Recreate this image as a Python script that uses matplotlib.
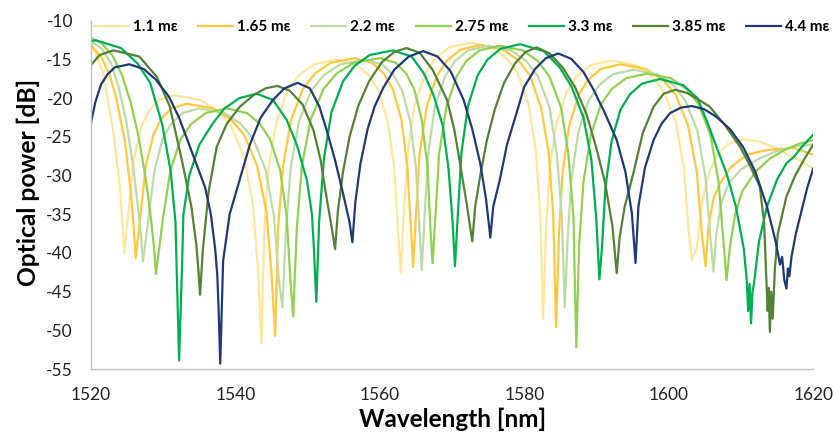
import matplotlib
matplotlib.use("Agg")
import matplotlib.pyplot as plt

# strain levels and their line colours (Excel-like palette)
labels = ["1.1 mε", "1.65 mε", "2.2 mε", "2.75 mε", "3.3 mε", "3.85 mε", "4.4 mε"]
colors = ["#FFE699", "#FFC83D", "#BDDBA6", "#92D050", "#00B050", "#548235", "#1F3A78"]

# spectra: (wavelength nm, optical power dB)
s_110 = [(1520.0, -12.9), (1520.8, -14.5), (1521.6, -16.5), (1522.2, -19.5), (1523.2, -25.0),
         (1524.0, -31.5), (1524.3, -35.5), (1524.6, -40.0),
         (1525.3, -33.6), (1526.0, -27.6), (1527.0, -23.6), (1528.05, -21.6), (1529.4, -20.2), (1531.5, -19.6),
         (1535.1, -20.2), (1537.55, -21.6), (1539.4, -23.6), (1541.2, -27.6), (1542.4, -33.6), (1543.1, -41.6),
         (1543.6, -51.7),
         (1544.0, -37.0), (1544.6, -29.0), (1545.7, -23.0), (1547.2, -19.0), (1548.8, -17.0), (1550.9, -15.6),
         (1554.0, -15.0),
         (1556.7, -15.6), (1558.45, -17.0), (1559.8, -19.0), (1561.1, -23.0), (1562.0, -29.0), (1562.5, -37.0),
         (1562.9, -42.6),
         (1563.3, -34.8), (1563.9, -26.8), (1564.8, -20.8), (1566.3, -16.8), (1567.7, -14.8), (1569.6, -13.4),
         (1572.5, -12.8),
         (1575.5, -13.4), (1577.55, -14.8), (1579.1, -16.8), (1580.6, -20.8), (1581.6, -26.8), (1582.2, -34.8),
         (1582.6, -48.5),
         (1583.0, -37.1), (1583.5, -29.1), (1584.5, -23.1), (1585.9, -19.1), (1587.3, -17.1), (1589.2, -15.7),
         (1592.0, -15.1),
         (1595.4, -15.7), (1597.6, -17.1), (1599.3, -19.1), (1601.0, -23.1), (1602.1, -29.1), (1602.75, -37.1),
         (1603.2, -40.9),
         (1603.9, -39.3), (1604.6, -33.3), (1605.7, -29.3), (1606.75, -27.3), (1608.2, -25.9), (1610.3, -25.3),
         (1612.5, -25.6), (1615.0, -26.5), (1617.5, -27.7), (1620.0, -29.1)]

s_165 = [(1520.0, -13.1), (1521.5, -14.8), (1522.6, -17.0), (1523.5, -20.0), (1524.7, -25.5),
         (1525.5, -32.0), (1525.9, -36.5), (1526.2, -40.7),
         (1526.9, -34.7), (1527.6, -28.7), (1528.65, -24.7), (1529.7, -22.7), (1531.1, -21.3), (1533.2, -20.7),
         (1536.9, -21.3), (1539.35, -22.7), (1541.2, -24.7), (1543.0, -28.7), (1544.3, -34.7), (1545.0, -42.7),
         (1545.5, -50.7),
         (1545.9, -36.8), (1546.6, -28.8), (1547.7, -22.8), (1549.35, -18.8), (1551.0, -16.8), (1553.2, -15.4),
         (1556.5, -14.8),
         (1558.9, -15.4), (1560.55, -16.8), (1561.8, -18.8), (1563.0, -22.8), (1563.8, -28.8), (1564.3, -36.8),
         (1564.6, -41.8),
         (1565.0, -35.1), (1565.5, -27.1), (1566.5, -21.1), (1567.9, -17.1), (1569.3, -15.1), (1571.2, -13.7),
         (1574.0, -13.1),
         (1577.1, -13.7), (1579.2, -15.1), (1580.8, -17.1), (1582.3, -21.1), (1583.4, -27.1), (1584.0, -35.1),
         (1584.4, -49.6),
         (1584.8, -37.6), (1585.3, -29.6), (1586.2, -23.6), (1587.5, -19.6), (1588.85, -17.6), (1590.6, -16.2),
         (1593.3, -15.6),
         (1596.8, -16.2), (1599.2, -17.6), (1601.0, -19.6), (1602.7, -23.6), (1603.9, -29.6), (1604.6, -37.6),
         (1605.1, -41.7),
         (1605.5, -36.5), (1606.2, -33.0), (1607.1, -31.0), (1608.5, -29.0), (1610.8, -27.3), (1613.5, -26.7),
         (1617.3, -26.4), (1620.0, -27.3)]

s_220 = [(1520.0, -12.6), (1521.5, -13.6), (1522.8, -15.5), (1523.8, -18.5), (1524.8, -22.5),
         (1525.8, -28.5), (1526.5, -34.0), (1526.9, -37.5), (1527.2, -41.1),
         (1528.0, -35.3), (1528.8, -29.3), (1529.9, -25.3), (1531.1, -23.3), (1532.7, -21.9), (1535.0, -21.3),
         (1538.45, -21.9), (1540.75, -23.3), (1542.5, -25.3), (1544.2, -29.3), (1545.35, -35.3), (1546.0, -43.3),
         (1546.5, -47.0),
         (1547.0, -37.0), (1547.65, -29.0), (1548.8, -23.0), (1550.5, -19.0), (1552.25, -17.0), (1554.55, -15.6),
         (1558.0, -15.0),
         (1560.3, -15.6), (1561.9, -17.0), (1563.1, -19.0), (1564.2, -23.0), (1565.0, -29.0), (1565.5, -37.0),
         (1565.8, -42.2),
         (1566.2, -35.2), (1566.7, -27.2), (1567.6, -21.2), (1569.0, -17.2), (1570.4, -15.2), (1572.2, -13.8),
         (1575.0, -13.2),
         (1578.2, -13.8), (1580.3, -15.2), (1581.9, -17.2), (1583.5, -21.2), (1584.5, -27.2), (1585.2, -35.2),
         (1585.6, -47.0),
         (1586.0, -38.3), (1586.55, -30.3), (1587.5, -24.3), (1588.9, -20.3), (1590.35, -18.3), (1592.25, -16.9),
         (1595.1, -16.3),
         (1598.4, -16.9), (1600.65, -18.3), (1602.3, -20.3), (1604.0, -24.3), (1605.1, -30.3), (1605.8, -38.3),
         (1606.2, -42.4),
         (1606.6, -37.5), (1607.3, -33.5), (1608.3, -31.0), (1610.0, -29.2), (1612.5, -27.8), (1615.0, -26.8),
         (1617.5, -26.2), (1620.0, -26.0)]

s_275 = [(1520.0, -12.2), (1521.5, -12.9), (1523.0, -14.5), (1524.3, -17.0), (1525.5, -20.5),
         (1526.6, -25.0), (1527.6, -30.5), (1528.3, -35.5), (1528.7, -39.0), (1529.0, -42.7),
         (1530.0, -35.3), (1531.0, -29.3), (1532.4, -25.3), (1533.9, -23.3), (1535.9, -21.9), (1538.8, -21.3),
         (1541.6, -21.9), (1543.4, -23.3), (1544.8, -25.3), (1546.2, -29.3), (1547.1, -35.3), (1547.6, -43.3),
         (1548.0, -48.2),
         (1548.5, -36.8), (1549.2, -28.8), (1550.4, -22.8), (1552.2, -18.8), (1554.0, -16.8), (1556.4, -15.4),
         (1560.0, -14.8),
         (1562.2, -15.4), (1563.65, -16.8), (1564.75, -18.8), (1565.8, -22.8), (1566.6, -28.8), (1567.0, -36.8),
         (1567.3, -41.3),
         (1567.7, -35.2), (1568.2, -27.2), (1569.2, -21.2), (1570.6, -17.2), (1571.95, -15.2), (1573.8, -13.8),
         (1576.6, -13.2),
         (1579.8, -13.8), (1581.9, -15.2), (1583.5, -17.2), (1585.1, -21.2), (1586.1, -27.2), (1586.8, -35.2),
         (1587.2, -52.2),
         (1587.6, -38.8), (1588.2, -30.8), (1589.2, -24.8), (1590.6, -20.8), (1592.1, -18.8), (1594.1, -17.4),
         (1597.0, -16.8),
         (1600.3, -17.4), (1602.5, -18.8), (1604.15, -20.8), (1605.8, -24.8), (1606.9, -30.8), (1607.6, -38.8),
         (1608.0, -43.5),
         (1608.5, -39.0), (1609.2, -35.0), (1610.2, -32.0), (1612.0, -29.5), (1614.0, -27.8), (1616.0, -26.7),
         (1618.0, -25.9), (1620.0, -25.4)]

s_330 = [(1520.0, -12.6), (1520.7, -12.5), (1524.15, -13.5), (1526.45, -15.5), (1528.2, -18.0),
         (1529.9, -23.5), (1531.05, -29.5), (1531.7, -36.0), (1532.2, -53.9),
         (1532.6, -42.0), (1532.8, -35.0), (1533.6, -30.0), (1535.0, -26.0), (1536.9, -23.2), (1538.5, -21.3),
         (1540.5, -20.0), (1542.9, -19.4),
         (1545.2, -20.2), (1547.1, -22.8), (1548.5, -26.0), (1549.9, -30.6), (1550.6, -35.0), (1550.9, -40.0),
         (1551.2, -46.3),
         (1551.6, -35.8), (1552.26, -27.8), (1553.3, -21.8), (1554.9, -17.8), (1556.5, -15.8), (1558.6, -14.4),
         (1561.8, -13.8),
         (1564.4, -14.6), (1566.1, -16.8), (1567.4, -19.5), (1568.7, -23.5), (1569.5, -29.0), (1570.06, -35.8),
         (1570.4, -41.7),
         (1570.8, -35.0), (1571.3, -27.0), (1572.2, -21.0), (1573.55, -17.0), (1574.9, -15.0), (1576.7, -13.6),
         (1579.4, -13.0),
         (1582.7, -13.9), (1584.9, -16.0), (1586.55, -18.5), (1588.2, -22.5), (1589.3, -28.0), (1589.96, -35.5),
         (1590.4, -43.4),
         (1590.74, -39.5), (1591.24, -31.5), (1592.1, -25.5), (1593.3, -21.5), (1594.6, -19.5), (1596.3, -18.1),
         (1598.8, -17.5),
         (1602.0, -18.3), (1604.0, -20.0), (1605.3, -23.0), (1606.7, -26.5), (1608.0, -29.7), (1609.3, -34.0),
         (1610.4, -39.5), (1610.8, -43.5), (1611.0, -47.5), (1611.2, -44.0), (1611.4, -49.1), (1611.6, -45.0),
         (1611.8, -44.0),
         (1612.5, -38.5), (1613.6, -34.0), (1615.0, -30.5), (1616.3, -28.4), (1617.3, -27.6), (1618.5, -26.2),
         (1620.0, -24.7)]

s_385 = [(1520.0, -15.7), (1521.2, -14.4), (1523.1, -13.8), (1526.7, -14.6), (1529.1, -17.2),
         (1530.9, -21.0), (1532.7, -28.5), (1533.9, -34.0), (1534.6, -39.0), (1534.9, -42.5), (1535.1, -45.4),
         (1535.5, -39.5), (1536.3, -32.0), (1537.4, -26.3), (1538.8, -23.3), (1540.6, -21.1), (1542.5, -19.6),
         (1544.2, -18.7), (1545.8, -18.4), (1547.5, -19.0), (1549.3, -20.8), (1550.8, -24.1), (1551.8, -28.0),
         (1552.6, -32.7), (1553.3, -36.5), (1553.8, -39.5),
         (1554.2, -34.5), (1554.9, -29.5), (1555.8, -25.0), (1557.0, -21.0), (1558.5, -17.8), (1560.3, -15.3),
         (1562.0, -14.0), (1563.7, -13.5), (1565.5, -14.1), (1567.3, -16.3), (1569.3, -20.2), (1570.3, -24.0),
         (1571.1, -28.4), (1572.0, -33.5), (1572.8, -38.5),
         (1573.2, -34.0), (1573.9, -30.0), (1574.8, -25.5), (1575.9, -21.5), (1577.2, -18.0), (1578.7, -15.5),
         (1580.2, -14.0), (1581.7, -13.4), (1583.5, -14.2), (1585.3, -16.0), (1587.0, -18.5), (1588.6, -22.0),
         (1590.0, -26.5), (1591.2, -31.0), (1592.2, -36.5), (1592.8, -42.6),
         (1593.2, -38.0), (1593.9, -34.0), (1595.1, -29.7), (1596.4, -24.5), (1597.9, -21.1), (1599.3, -19.4),
         (1600.9, -18.9), (1602.5, -19.3), (1604.2, -20.2), (1605.7, -21.1), (1607.8, -23.5), (1609.9, -26.3),
         (1611.3, -28.8), (1612.6, -31.4), (1613.2, -36.0), (1613.5, -43.0), (1613.7, -47.5), (1613.85, -44.5),
         (1614.0, -50.2), (1614.2, -45.0), (1614.4, -48.5), (1614.7, -42.0), (1615.1, -37.5),
         (1616.3, -32.7), (1617.5, -30.0), (1618.8, -27.8), (1620.0, -26.0)]

s_440 = [(1520.0, -23.2), (1520.6, -20.5), (1521.4, -18.2), (1522.3, -16.9), (1523.3, -16.0),
         (1525.3, -15.6), (1527.3, -16.2), (1529.0, -17.6), (1530.8, -19.8), (1532.2, -22.5), (1533.2, -25.0),
         (1534.6, -28.5), (1535.8, -31.5), (1536.6, -35.0), (1537.2, -39.5), (1537.5, -43.0), (1537.7, -48.0),
         (1537.9, -54.3),
         (1538.3, -41.0), (1539.2, -35.0), (1540.6, -30.5), (1542.0, -26.0), (1543.5, -22.5), (1545.2, -20.2),
         (1546.8, -18.7), (1548.6, -18.0), (1550.3, -18.7), (1551.6, -21.0), (1552.6, -24.0), (1553.8, -28.0),
         (1555.0, -32.7), (1555.8, -36.0), (1556.2, -38.6),
         (1556.6, -33.5), (1557.3, -28.5), (1558.3, -24.0), (1559.3, -21.0), (1560.5, -18.6), (1562.0, -16.3),
         (1564.0, -14.6), (1566.0, -13.9), (1568.0, -14.6), (1569.8, -16.5), (1571.6, -20.2), (1572.8, -24.0),
         (1573.9, -28.4), (1574.7, -33.0), (1575.3, -38.0),
         (1575.7, -34.0), (1576.6, -30.6), (1577.6, -26.0), (1578.9, -22.0), (1580.0, -18.5), (1581.5, -16.2),
         (1583.0, -14.8), (1584.7, -14.2), (1586.5, -14.9), (1588.2, -16.6), (1589.6, -18.9), (1591.2, -22.0),
         (1592.8, -25.4), (1594.0, -29.5), (1594.9, -34.9), (1595.4, -41.3),
         (1595.8, -34.0), (1596.7, -29.0), (1597.9, -25.4), (1599.0, -23.3), (1600.2, -21.9), (1601.7, -21.2),
         (1603.2, -21.0), (1604.9, -21.4), (1606.6, -22.4), (1608.5, -24.0), (1610.3, -26.3), (1612.0, -29.5),
         (1613.6, -34.0), (1614.8, -38.5), (1615.4, -41.5), (1615.7, -40.5), (1616.0, -43.5), (1616.3, -44.6),
         (1616.5, -42.0), (1616.7, -43.0), (1617.0, -40.5), (1617.6, -37.5), (1618.4, -34.5), (1619.2, -31.5),
         (1620.0, -29.1)]

series = [s_110, s_165, s_220, s_275, s_330, s_385, s_440]

x_ticks = [1520, 1540, 1560, 1580, 1600, 1620]
y_ticks = [-55, -50, -45, -40, -35, -30, -25, -20, -15, -10]

plt.rcParams['font.family'] = ['Lato', 'DejaVu Sans']
plt.rcParams['axes.unicode_minus'] = False  # plain hyphen like the original

fig = plt.figure(figsize=(8.33, 4.37), dpi=100)
ax = fig.add_axes([0.1092, 0.1556, 0.867, 0.7964])

for pts, lab, col in zip(series, labels, colors):
    wl = [p[0] for p in pts]
    pw = [p[1] for p in pts]
    ax.plot(wl, pw, color=col, lw=1.6, label=lab, solid_joinstyle='round')

ax.set_xlim(1520, 1620)
ax.set_ylim(-55, -10)
ax.set_xticks(x_ticks)
ax.set_yticks(y_ticks)
ax.tick_params(length=0, labelsize=12.5, colors='#222222')
ax.tick_params(axis='y', pad=13)
ax.tick_params(axis='x', pad=13)

for side in ['top', 'right']:
    ax.spines[side].set_visible(False)
for side in ['left', 'bottom']:
    ax.spines[side].set_color('#BFBFBF')
    ax.spines[side].set_linewidth(1.0)

ax.set_xlabel("Wavelength [nm]", fontsize=17.5, fontweight='bold', labelpad=3)
ax.set_ylabel("Optical power [dB]", fontsize=17.7, fontweight='bold')
ax.yaxis.set_label_coords(-0.07, 0.537)

leg = ax.legend(loc='center left', bbox_to_anchor=(0.004, 0.983), ncol=7, frameon=False,
                borderaxespad=0, borderpad=0, handlelength=2.3, handletextpad=0.25,
                columnspacing=1.35, prop={'weight': 'bold', 'size': 11})
for line in leg.get_lines():
    line.set_linewidth(1.6)

fig.savefig("out.png", dpi=100)
